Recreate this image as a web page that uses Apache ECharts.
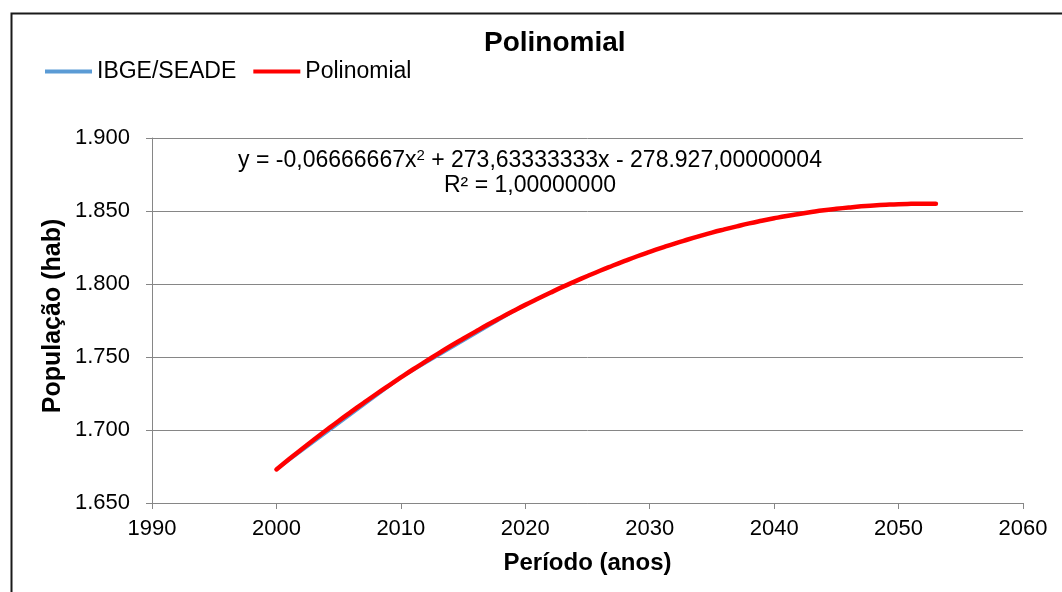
<!DOCTYPE html>
<html>
<head>
<meta charset="utf-8">
<script src="https://cdn.jsdelivr.net/npm/echarts@6/dist/echarts.min.js"></script>
<style>
html,body{margin:0;padding:0;background:#fff;}
#c{width:1062px;height:592px;}
</style>
</head>
<body>
<div id="c"></div>
<script>
// IBGE/SEADE observed points
var ibgeYears = [2000, 2010, 2020];
var ibgeValues = [1673, 1736, 1786];
// Polynomial trend (yearly)
var polyYears = [2000,2001,2002,2003,2004,2005,2006,2007,2008,2009,2010,2011,2012,2013,2014,2015,2016,2017,2018,2019,2020,2021,2022,2023,2024,2025,2026,2027,2028,2029,2030,2031,2032,2033,2034,2035,2036,2037,2038,2039,2040,2041,2042,2043,2044,2045,2046,2047,2048,2049,2050,2051,2052,2053];
var polyValues = [1673.0,1679.9,1686.7,1693.3,1699.8,1706.2,1712.4,1718.5,1724.5,1730.3,1736.0,1741.6,1747.0,1752.3,1757.5,1762.5,1767.4,1772.2,1776.8,1781.3,1785.7,1789.9,1794.0,1798.0,1801.8,1805.5,1809.1,1812.5,1815.8,1819.0,1822.0,1824.9,1827.7,1830.3,1832.8,1835.2,1837.4,1839.5,1841.5,1843.3,1845.0,1846.6,1848.0,1849.3,1850.5,1851.5,1852.4,1853.2,1853.8,1854.3,1854.7,1854.9,1855.0,1855.0];
var seriesNames = ['IBGE/SEADE', 'Polinomial'];
var titleText = 'Polinomial';
var xName = 'Período (anos)';
var yName = 'População (hab)';
var eqLine1a = 'y = -0,06666667x';
var eqLine1b = '2';
var eqLine1c = ' + 273,63333333x - 278.927,00000004';
var eqLine2 = 'R² = 1,00000000';

function zip(a, b) { return a.map(function (v, i) { return [v, b[i]]; }); }

var FONT = '"Liberation Sans", Arial, sans-serif';
var chart = echarts.init(document.getElementById('c'), null, {renderer: 'canvas'});
chart.setOption({
  animation: false,
  backgroundColor: '#fff',
  textStyle: {fontFamily: FONT},
  title: {
    text: titleText, left: 479, top: 24,
    textStyle: {fontFamily: FONT, fontWeight: 'bold', fontSize: 28, color: '#000'}
  },
  legend: {
    left: 40, top: 55, itemGap: 17, itemWidth: 47, itemHeight: 4,
    icon: 'rect',
    textStyle: {fontFamily: FONT, fontSize: 23, color: '#000', padding: [0,0,0,0]},
    data: [
      {name: seriesNames[0], itemStyle: {color: '#5B9BD5'}},
      {name: seriesNames[1], itemStyle: {color: '#FF0000'}}
    ]
  },
  grid: {left: 152, right: 39, top: 138, bottom: 89, containLabel: false},
  xAxis: {
    type: 'value', min: 1990, max: 2060, interval: 10,
    name: xName, nameLocation: 'middle', nameGap: 48,
    nameTextStyle: {fontFamily: FONT, fontWeight: 'bold', fontSize: 24, color: '#000'},
    axisLine: {show: true, lineStyle: {color: '#868686', width: 1}},
    axisTick: {show: true, length: 6, lineStyle: {color: '#868686'}},
    axisLabel: {fontFamily: FONT, fontSize: 22, color: '#000', margin: 15,
      formatter: function (v) { return String(v); }},
    splitLine: {show: false}
  },
  yAxis: {
    type: 'value', min: 1650, max: 1900, interval: 50,
    axisLine: {show: true, lineStyle: {color: '#868686', width: 1}},
    axisTick: {show: true, length: 6, lineStyle: {color: '#868686'}},
    axisLabel: {fontFamily: FONT, fontSize: 22, color: '#000', margin: 22,
      formatter: function (v) { return (v / 1000).toFixed(3); }},
    splitLine: {show: true, lineStyle: {color: '#868686', width: 1}}
  },
  series: [
    {
      name: seriesNames[0], type: 'line', data: zip(ibgeYears, ibgeValues),
      showSymbol: false, symbol: 'none', z: 2,
      lineStyle: {color: '#5B9BD5', width: 3}, itemStyle: {color: '#5B9BD5'}
    },
    {
      name: seriesNames[1], type: 'line', data: zip(polyYears, polyValues),
      showSymbol: false, symbol: 'none', smooth: true, z: 3,
      lineStyle: {color: '#FF0000', width: 4.5, cap: 'round', join: 'round'}, itemStyle: {color: '#FF0000'}
    }
  ],
  graphic: [
    {
      type: 'rect', left: 9, top: 11, silent: true, z: 100,
      shape: {width: 1100, height: 700},
      style: {fill: null, stroke: '#1a1a1a', lineWidth: 2}
    },
    {
      type: 'text', x: 53, y: 316, rotation: Math.PI / 2, silent: true, z: 50,
      style: {
        text: yName, align: 'center', verticalAlign: 'middle',
        fontFamily: FONT, fontWeight: 'bold', fontSize: 25, fill: '#000'
      }
    },
    {
      type: 'text', x: 530, y: 161, silent: true, z: 50,
      style: {
        text: '{a|' + eqLine1a + '}{s|' + eqLine1b + '}{a|' + eqLine1c + '}',
        align: 'center', verticalAlign: 'middle',
        rich: {
          a: {fontFamily: FONT, fontSize: 23, fill: '#000'},
          s: {fontFamily: FONT, fontSize: 15, fill: '#000', padding: [0,0,10,0]}
        }
      }
    },
    {
      type: 'text', x: 530, y: 186, silent: true, z: 50,
      style: {
        text: eqLine2, align: 'center', verticalAlign: 'middle',
        fontFamily: FONT, fontSize: 23, fill: '#000'
      }
    }
  ]
});
</script>
</body>
</html>
